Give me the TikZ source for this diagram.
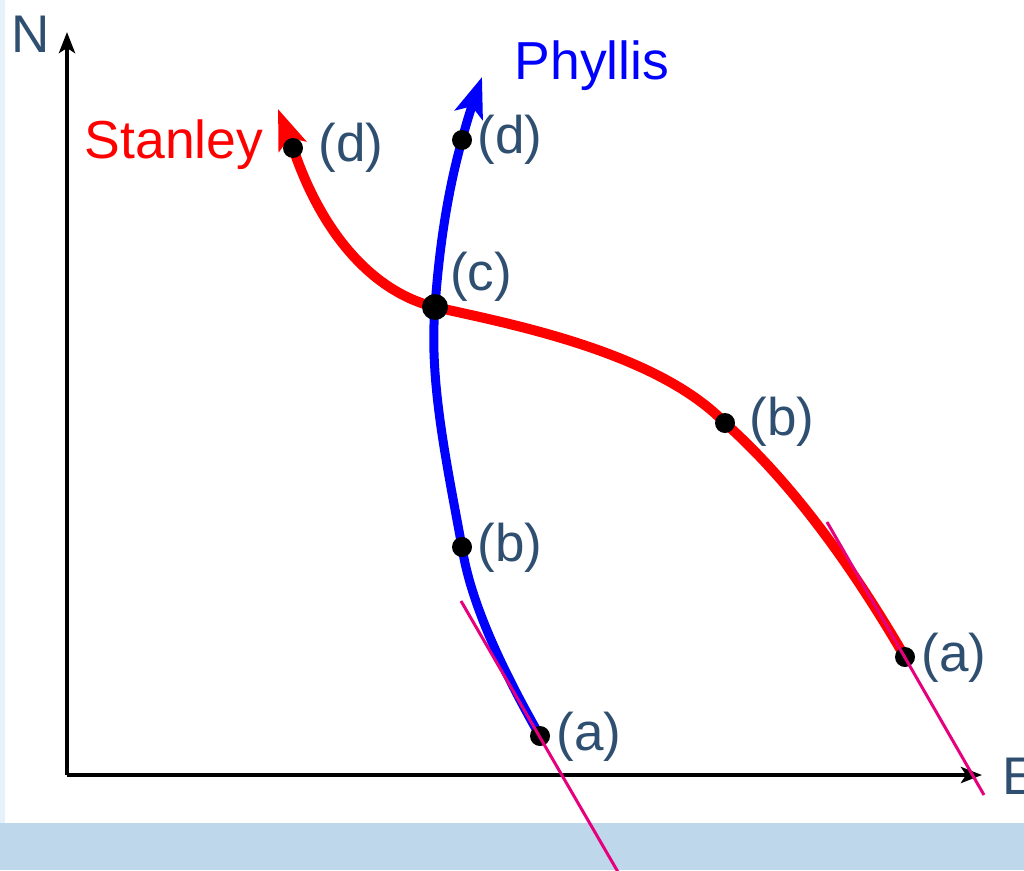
\documentclass[tikz,border=0pt]{standalone}
\usepackage{fontspec}
\setmainfont{Liberation Sans}
\usetikzlibrary{arrows.meta}
\definecolor{stripblue}{RGB}{191,215,234}
\definecolor{edgeblue}{RGB}{230,241,250}
\definecolor{labcol}{RGB}{47,79,112}
\definecolor{tangpink}{RGB}{230,0,126}
\definecolor{phblue}{RGB}{0,0,255}
\definecolor{stred}{RGB}{255,0,0}
\tikzset{
  axisline/.style={line width=4pt,-{Stealth[length=21pt,width=16pt,inset=5pt]}},
  curveline/.style={line width=#1,-{Stealth[length=40pt,width=29pt,inset=9pt]}},
  dotnode/.style={circle,fill=black,inner sep=0pt,minimum size=20pt},
  bigdot/.style={circle,fill=black,inner sep=0pt,minimum size=26pt},
  lab/.style={text=labcol,font=\fontsize{53}{60}\selectfont,inner sep=0pt},
  titletext/.style={font=\fontsize{53.5}{60}\selectfont,inner sep=0pt},
  tangent/.style={draw=tangpink,line width=3pt},
}
\begin{document}
\begin{tikzpicture}[x=1pt,y=-1pt]
\useasboundingbox (0,0) rectangle (1024,870);
\clip (0,0) rectangle (1024,870);
\fill[edgeblue] (0,0) rectangle (4.5,823);
\fill[stripblue] (0,823) rectangle (1024,870);
% axes
\coordinate (O) at (67,775);
\coordinate (Ntip) at (67,32);
\coordinate (Etip) at (982,775);
\draw[axisline] (O) -- (Ntip);
\draw[axisline] (O) -- (Etip);
\node[lab] (N) at (31,34) {N};
\node[lab,anchor=west] (E) at (1002,776) {E};
% points
\coordinate (pa) at (540,736);
\coordinate (pb) at (462,547);
\coordinate (c) at (435,307);
\coordinate (pd) at (462,140);
\coordinate (ptip) at (482,77);
\coordinate (sa) at (905,657);
\coordinate (sb) at (725,423);
\coordinate (sd) at (293,148);
\coordinate (stip) at (278,109);
% Phyllis curve
\draw[phblue,curveline=9pt] (pa) .. controls (500,666) and (470,600) .. (pb)
  .. controls (446,460) and (429,380) .. (c)
  .. controls (441,220) and (455,165) .. (pd)
  .. controls (467,120) and (474,100) .. (ptip);
% Stanley curve
\draw[stred,curveline=10pt] (sa) .. controls (860,580) and (800,490) .. (sb)
  .. controls (655,350) and (500,322) .. (c)
  .. controls (380,294) and (325,243) .. (sd)
  -- (stip);
% dots
\node[dotnode] (dpa) at (pa) {};
\node[dotnode] (dpb) at (pb) {};
\node[bigdot] (dc) at (c) {};
\node[dotnode] (dpd) at (pd) {};
\node[dotnode] (dsa) at (sa) {};
\node[dotnode] (dsb) at (sb) {};
\node[dotnode] (dsd) at (sd) {};
% tangent lines
\coordinate (t1a) at (461,601);
\coordinate (t1b) at (618,872);
\coordinate (t2a) at (827,522);
\coordinate (t2b) at (984,795);
\draw[tangent] (t1a) -- (t1b);
\draw[tangent] (t2a) -- (t2b);
% labels
\node[lab] (lsd) at (351,148) {(d)};
\node[lab] (lpd) at (510,140) {(d)};
\node[lab] (lc) at (481,277) {(c)};
\node[lab] (lsb) at (782,422) {(b)};
\node[lab] (lpb) at (510,548) {(b)};
\node[lab] (lpa) at (589,737) {(a)};
\node[lab] (lsa) at (954,658) {(a)};
\node[titletext,text=stred] (stan) at (174,145) {Stanley};
\node[titletext,text=phblue] (phyl) at (592,66) {Phyllis};
\end{tikzpicture}
\end{document}
